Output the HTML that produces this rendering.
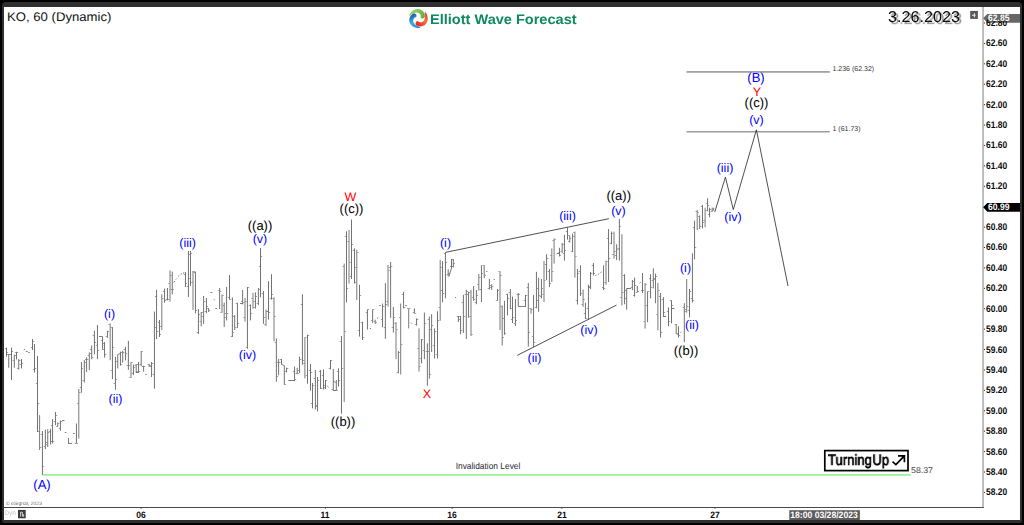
<!DOCTYPE html>
<html><head><meta charset="utf-8"><title>KO 60 Elliott Wave</title>
<style>
html,body{margin:0;padding:0;background:#000;}
#root{text-rendering:geometricPrecision;position:relative;width:1024px;height:525px;overflow:hidden;background:#000;font-family:"Liberation Sans",sans-serif;}
#frame{position:absolute;left:2px;top:2px;width:1020px;height:521px;background:#2f2f2f;border-radius:4px 4px 2px 2px;}
#paper{position:absolute;left:4px;top:7px;width:1016px;height:513px;background:#fff;}
svg{position:absolute;left:0;top:0;}
.t{position:absolute;white-space:nowrap;line-height:1;transform:translate(-50%,-50%);}
.w{position:absolute;white-space:nowrap;line-height:1;}
.ax{position:absolute;left:985.8px;font-weight:bold;font-size:9.6px;color:#0a0a0a;line-height:1;transform-origin:0 50%;transform:translateY(-50%) scaleX(0.88);white-space:nowrap;}
.tx{position:absolute;top:515.5px;font-weight:bold;font-size:9.2px;color:#0a0a0a;line-height:1;transform:translate(-50%,-50%) scaleX(0.93);white-space:nowrap;}
</style></head><body><div id="root">
<div id="frame"></div><div id="paper"></div>

<svg width="1024" height="525" viewBox="0 0 1024 525">
<defs><linearGradient id="gg" gradientUnits="userSpaceOnUse" x1="409" y1="15" x2="424" y2="17"><stop offset="0" stop-color="#9ed774"/><stop offset="0.55" stop-color="#84c858"/><stop offset="1" stop-color="#5fb13c"/></linearGradient><linearGradient id="gr" gradientUnits="userSpaceOnUse" x1="426" y1="12" x2="415" y2="25"><stop offset="0" stop-color="#ee3a2c"/><stop offset="0.45" stop-color="#f4743f"/><stop offset="1" stop-color="#e81c1a"/></linearGradient><linearGradient id="gb" gradientUnits="userSpaceOnUse" x1="420" y1="28" x2="412" y2="13"><stop offset="0" stop-color="#2f86cf"/><stop offset="0.5" stop-color="#39b1e8"/><stop offset="1" stop-color="#1b4a98"/></linearGradient></defs>
<rect x="982.2" y="7" width="1.7" height="500.6" fill="#b4b4b4"/>
<rect x="4" y="507" width="979.8" height="1" fill="#4a4a4a"/>
<rect x="983.9" y="22.49" width="1.1" height="1" fill="#333"/>
<rect x="983.9" y="42.90" width="1.1" height="1" fill="#333"/>
<rect x="983.9" y="63.31" width="1.1" height="1" fill="#333"/>
<rect x="983.9" y="83.72" width="1.1" height="1" fill="#333"/>
<rect x="983.9" y="104.13" width="1.1" height="1" fill="#333"/>
<rect x="983.9" y="124.54" width="1.1" height="1" fill="#333"/>
<rect x="983.9" y="144.95" width="1.1" height="1" fill="#333"/>
<rect x="983.9" y="165.36" width="1.1" height="1" fill="#333"/>
<rect x="983.9" y="185.77" width="1.1" height="1" fill="#333"/>
<rect x="983.9" y="206.18" width="1.1" height="1" fill="#333"/>
<rect x="983.9" y="226.59" width="1.1" height="1" fill="#333"/>
<rect x="983.9" y="247.00" width="1.1" height="1" fill="#333"/>
<rect x="983.9" y="267.41" width="1.1" height="1" fill="#333"/>
<rect x="983.9" y="287.82" width="1.1" height="1" fill="#333"/>
<rect x="983.9" y="308.23" width="1.1" height="1" fill="#333"/>
<rect x="983.9" y="328.64" width="1.1" height="1" fill="#333"/>
<rect x="983.9" y="349.05" width="1.1" height="1" fill="#333"/>
<rect x="983.9" y="369.46" width="1.1" height="1" fill="#333"/>
<rect x="983.9" y="389.87" width="1.1" height="1" fill="#333"/>
<rect x="983.9" y="410.28" width="1.1" height="1" fill="#333"/>
<rect x="983.9" y="430.69" width="1.1" height="1" fill="#333"/>
<rect x="983.9" y="451.10" width="1.1" height="1" fill="#333"/>
<rect x="983.9" y="471.51" width="1.1" height="1" fill="#333"/>
<rect x="983.9" y="491.92" width="1.1" height="1" fill="#333"/>
<rect x="140.6" y="507.5" width="1" height="1.2" fill="#333"/>
<rect x="324.9" y="507.5" width="1" height="1.2" fill="#333"/>
<rect x="451.7" y="507.5" width="1" height="1.2" fill="#333"/>
<rect x="561.4" y="507.5" width="1" height="1.2" fill="#333"/>
<rect x="714.5" y="507.5" width="1" height="1.2" fill="#333"/>
<rect x="42.5" y="473.9" width="868" height="1.9" fill="#a0f0a0"/>
<rect x="686.5" y="71.0" width="143.3" height="1.8" fill="#a2a2a2"/>
<rect x="686.5" y="131.2" width="143.3" height="1.2" fill="#858585"/>
<g stroke="#303030" stroke-width="0.85" fill="none" stroke-linecap="butt">
<line x1="445.4" y1="252.4" x2="608.9" y2="218.7"/>
<line x1="517.2" y1="355.4" x2="616.5" y2="305.1"/>
<polyline points="714.8,212 725.4,177.1 733.3,209.6 756.4,129.8 788,286"/>
</g>
<path d="M39.60 415.2V450.0M78.80 389.0V438.6M110.20 323.5V360.2M131.00 362.0V378.0M161.80 294.3V330.0M170.00 270.4V301.6M193.00 271.0V310.0M222.00 294.6V312.7M245.00 298.0V321.6M253.00 292.9V308.6M266.00 309.5V326.1M274.00 297.2V341.3M304.90 337.2V378.3M344.20 263.6V402.0M349.00 230.0V283.6M356.80 249.6V300.0M388.00 265.0V306.6M396.00 322.0V359.2M400.70 303.6V374.5M408.70 308.3V328.4M419.00 328.4V371.6M429.40 316.6V378.7M440.20 259.8V320.7M471.00 290.0V336.0M478.80 274.0V290.6M500.00 271.3V330.0M531.00 308.0V313.6M544.00 261.0V302.0M551.80 248.4V282.0M554.10 238.4V263.6M574.90 231.6V277.7M583.10 289.5V306.8M606.00 260.6V284.8M614.00 231.6V258.6M621.90 234.2V305.5M645.10 283.0V328.6M655.50 273.6V303.2M657.90 283.0V330.4M686.70 279.0V312.7M697.20 210.0V230.0M705.10 207.7V227.2" stroke="#6a6a6a" stroke-width="0.9" fill="none"/>
<path d="M6.50 347.7V356.6M8.74 354.0V367.8M11.50 347.7V380.0M14.32 354.8V367.8M16.50 351.8V359.5M18.74 359.0V369.5M21.50 359.0V368.4M32.50 338.9V350.0M34.50 344.0V372.5M37.50 356.0V432.0M42.44 431.0V474.8M45.38 429.5V449.0M47.74 429.2V447.0M50.56 428.8V444.5M52.56 419.1V443.5M55.44 412.0V425.2M57.68 422.6V426.8M60.44 420.5V430.8M76.44 423.5V443.7M81.44 362.0V392.7M84.32 360.0V382.5M86.62 357.3V372.0M89.32 352.4V370.0M91.68 345.4V359.3M94.44 330.7V354.3M97.44 325.0V359.2M102.56 336.8V349.8M104.56 342.0V357.6M107.44 330.8V337.8M112.44 327.1V379.2M115.44 357.0V389.8M117.74 354.4V368.5M120.44 351.6V365.7M122.68 350.6V362.7M125.44 346.7V360.4M128.38 340.8V369.8M133.44 364.5V375.0M136.20 364.0V372.8M138.56 362.0V372.8M141.20 351.0V366.3M143.62 365.7V371.6M149.20 364.0V367.0M151.56 362.0V377.0M154.44 311.6V388.7M156.56 289.8V339.0M159.50 320.0V337.0M164.56 288.6V302.7M167.44 288.0V300.4M172.26 271.6V294.5M185.44 272.0V287.0M188.44 251.0V297.0M190.50 251.0V285.8M195.44 271.6V313.3M198.44 309.0V334.0M201.20 312.0V326.3M203.62 296.0V324.0M206.44 298.0V313.3M208.62 308.0V312.0M219.62 288.0V309.0M224.20 302.7V327.0M226.62 287.0V320.4M229.50 275.0V299.7M232.38 297.4V337.0M234.68 315.0V330.0M237.44 302.7V328.0M242.62 290.0V304.4M247.44 287.0V348.7M250.44 304.4V320.4M255.44 292.3V308.6M258.38 288.0V305.0M260.50 248.0V297.3M263.44 291.0V323.8M268.50 281.2V319.6M271.50 274.2V299.6M276.38 338.4V381.8M278.62 359.0V375.3M281.50 359.0V364.7M284.32 365.3V384.8M286.56 367.7V372.4M294.56 366.5V381.3M297.20 367.7V374.2M299.56 356.7V373.0M302.44 294.3V364.7M307.50 334.8V383.6M310.50 364.0V390.7M312.50 383.0V408.4M315.38 370.0V409.6M317.56 377.0V411.4M320.56 370.0V389.0M323.50 369.4V389.5M325.50 380.0V389.0M330.50 360.0V369.4M333.32 368.9V390.7M336.32 380.0V390.7M338.50 368.3V386.6M341.50 336.0V413.7M346.50 231.3V302.5M351.50 219.5V279.0M354.50 248.4V283.6M359.50 284.8V336.6M362.50 321.8V340.0M367.44 309.4V329.5M372.62 309.4V322.8M375.20 319.7V324.0M382.56 303.6V327.2M385.38 283.2V338.8M390.62 262.0V317.8M393.38 307.0V332.5M398.38 351.0V373.4M403.56 291.8V308.3M414.38 308.3V313.6M416.56 318.4V325.5M421.56 339.0V363.3M424.38 312.5V359.2M427.38 343.3V385.8M431.62 314.2V352.0M434.56 328.4V358.6M437.50 311.3V358.6M442.56 261.0V302.4M445.44 252.4V298.3M448.20 269.3V276.4M451.50 259.0V268.0M453.32 259.0V267.5M458.38 316.0V322.0M460.56 316.0V334.3M463.38 294.8V333.1M466.32 290.0V339.0M468.56 291.8V317.8M473.62 286.0V300.7M476.38 290.0V304.2M481.44 265.2V302.0M484.20 265.2V278.2M489.38 278.8V289.5M491.68 284.2V290.0M497.50 289.0V300.8M502.20 305.5V345.5M504.44 300.8V334.8M507.50 293.7V315.3M510.38 289.0V309.2M512.50 296.6V323.0M515.44 299.0V326.0M518.26 293.0V306.0M525.50 294.9V306.7M528.32 283.0V346.6M533.56 294.9V347.2M536.44 271.8V308.4M538.62 277.7V311.8M541.44 279.0V298.4M546.56 254.2V280.0M549.44 269.0V287.2M559.44 247.8V256.5M562.20 243.0V253.0M564.44 234.8V260.6M567.50 227.4V239.6M569.74 235.4V242.5M572.56 233.6V252.2M577.44 269.0V304.5M580.44 265.3V296.0M585.44 302.7V319.0M588.44 284.8V320.0M590.56 272.0V289.0M593.44 263.0V275.4M603.56 265.3V290.0M608.56 229.0V282.0M611.44 231.6V244.3M616.62 244.3V260.0M619.38 218.9V260.6M624.56 274.2V304.3M626.68 288.4V309.7M632.38 280.0V290.0M634.56 277.7V296.6M637.32 286.0V292.5M642.50 273.0V293.0M647.56 291.3V322.2M650.56 274.2V298.4M653.32 268.3V288.4M660.56 293.0V337.5M663.44 297.2V316.8M668.50 307.4V326.3M671.50 300.2V323.3M676.20 324.0V334.0M678.50 326.3V337.5M684.32 303.2V342.2M689.50 289.0V317.4M692.44 253.3V302.6M694.56 220.7V259.4M699.68 215.4V229.0M702.50 204.8V228.4M707.56 198.3V211.3M709.56 207.7V217.2M712.20 207.7V211.8M713.68 207.7V210.0" stroke="#4e4e4e" stroke-width="0.8" fill="none"/>
<path d="M4.8 348.5h1.3M6.9 352.5h1.3M7.0 354.5h1.3M9.1 354.5h1.3M9.8 354.5h1.3M11.9 351.5h1.3M12.6 360.5h1.3M14.7 355.5h1.3M14.8 352.5h1.3M16.9 352.5h1.3M17.0 368.5h1.3M19.1 360.5h1.3M19.8 364.5h1.3M21.9 363.5h1.3M30.8 347.5h1.3M32.9 341.5h1.3M32.8 369.5h1.3M34.9 368.5h1.3M35.8 383.5h1.3M37.9 403.5h1.3M37.9 431.5h1.3M40.0 447.5h1.3M40.7 434.5h1.3M42.8 466.5h1.3M43.7 446.5h1.3M45.8 442.5h1.3M46.0 444.5h1.3M48.1 432.5h1.3M48.9 431.5h1.3M51.0 441.5h1.3M50.9 425.5h1.3M53.0 441.5h1.3M53.7 421.5h1.3M55.8 415.5h1.3M56.0 426.5h1.3M58.1 423.5h1.3M58.7 428.5h1.3M60.8 421.5h1.3M74.7 443.5h1.3M76.8 443.5h1.3M77.1 403.5h1.3M79.2 392.5h1.3M79.7 387.5h1.3M81.8 368.5h1.3M82.6 380.5h1.3M84.7 362.5h1.3M84.9 359.5h1.3M87.0 359.5h1.3M87.6 355.5h1.3M89.7 353.5h1.3M90.0 349.5h1.3M92.1 357.5h1.3M92.7 335.5h1.3M94.8 342.5h1.3M95.7 345.5h1.3M97.8 350.5h1.3M100.9 340.5h1.3M103.0 349.5h1.3M102.9 343.5h1.3M105.0 354.5h1.3M105.7 336.5h1.3M107.8 331.5h1.3M108.5 324.5h1.3M110.6 327.5h1.3M110.7 370.5h1.3M112.8 347.5h1.3M113.7 383.5h1.3M115.8 379.5h1.3M116.0 361.5h1.3M118.1 354.5h1.3M118.7 353.5h1.3M120.8 364.5h1.3M121.0 352.5h1.3M123.1 352.5h1.3M123.7 349.5h1.3M125.8 353.5h1.3M126.7 365.5h1.3M128.8 365.5h1.3M129.3 377.5h1.3M131.4 362.5h1.3M131.7 373.5h1.3M133.8 367.5h1.3M134.5 365.5h1.3M136.6 371.5h1.3M136.9 364.5h1.3M139.0 371.5h1.3M139.5 364.5h1.3M141.6 351.5h1.3M141.9 366.5h1.3M144.0 366.5h1.3M147.5 364.5h1.3M149.6 365.5h1.3M149.9 366.5h1.3M152.0 363.5h1.3M152.7 374.5h1.3M154.8 327.5h1.3M154.9 296.5h1.3M157.0 331.5h1.3M157.8 322.5h1.3M159.9 334.5h1.3M160.1 326.5h1.3M162.2 298.5h1.3M162.9 291.5h1.3M165.0 300.5h1.3M165.7 299.5h1.3M167.8 299.5h1.3M168.3 283.5h1.3M170.4 275.5h1.3M170.6 289.5h1.3M172.7 289.5h1.3M183.7 274.5h1.3M185.8 283.5h1.3M186.7 286.5h1.3M188.8 254.5h1.3M188.8 278.5h1.3M190.9 253.5h1.3M191.3 282.5h1.3M193.4 271.5h1.3M193.7 272.5h1.3M195.8 310.5h1.3M196.7 332.5h1.3M198.8 314.5h1.3M199.5 321.5h1.3M201.6 312.5h1.3M201.9 316.5h1.3M204.0 301.5h1.3M204.7 311.5h1.3M206.8 306.5h1.3M206.9 308.5h1.3M209.0 310.5h1.3M217.9 290.5h1.3M220.0 291.5h1.3M220.3 312.5h1.3M222.4 295.5h1.3M222.5 305.5h1.3M224.6 317.5h1.3M224.9 313.5h1.3M227.0 313.5h1.3M227.8 297.5h1.3M229.9 299.5h1.3M230.7 336.5h1.3M232.8 332.5h1.3M233.0 316.5h1.3M235.1 327.5h1.3M235.7 303.5h1.3M237.8 323.5h1.3M240.9 301.5h1.3M243.0 302.5h1.3M243.3 317.5h1.3M245.4 301.5h1.3M245.7 347.5h1.3M247.8 287.5h1.3M248.7 305.5h1.3M250.8 313.5h1.3M251.3 298.5h1.3M253.4 307.5h1.3M253.7 301.5h1.3M255.8 296.5h1.3M256.7 303.5h1.3M258.8 289.5h1.3M258.8 266.5h1.3M260.9 256.5h1.3M261.7 293.5h1.3M263.8 317.5h1.3M264.3 324.5h1.3M266.4 311.5h1.3M266.8 311.5h1.3M268.9 312.5h1.3M269.8 298.5h1.3M271.9 294.5h1.3M272.3 298.5h1.3M274.4 316.5h1.3M274.7 342.5h1.3M276.8 376.5h1.3M276.9 362.5h1.3M279.0 362.5h1.3M279.8 359.5h1.3M281.9 364.5h1.3M282.6 365.5h1.3M284.7 384.5h1.3M284.9 371.5h1.3M287.0 368.5h1.3M292.9 371.5h1.3M295.0 379.5h1.3M295.5 373.5h1.3M297.6 373.5h1.3M297.9 370.5h1.3M300.0 359.5h1.3M300.7 304.5h1.3M302.8 360.5h1.3M303.2 363.5h1.3M305.3 337.5h1.3M305.8 375.5h1.3M307.9 335.5h1.3M308.8 370.5h1.3M310.9 372.5h1.3M310.8 403.5h1.3M312.9 385.5h1.3M313.7 378.5h1.3M315.8 405.5h1.3M315.9 406.5h1.3M318.0 380.5h1.3M318.9 371.5h1.3M321.0 388.5h1.3M321.8 375.5h1.3M323.9 385.5h1.3M323.8 387.5h1.3M325.9 380.5h1.3M328.8 368.5h1.3M330.9 360.5h1.3M331.6 389.5h1.3M333.7 381.5h1.3M334.6 382.5h1.3M336.7 390.5h1.3M336.8 371.5h1.3M338.9 380.5h1.3M339.8 341.5h1.3M341.9 368.5h1.3M342.5 266.5h1.3M344.6 331.5h1.3M344.8 236.5h1.3M346.9 288.5h1.3M347.3 241.5h1.3M349.4 262.5h1.3M349.8 276.5h1.3M351.9 244.5h1.3M352.8 250.5h1.3M354.9 282.5h1.3M355.1 267.5h1.3M357.2 252.5h1.3M357.8 330.5h1.3M359.9 295.5h1.3M360.8 322.5h1.3M362.9 337.5h1.3M365.7 312.5h1.3M367.8 309.5h1.3M370.9 320.5h1.3M373.0 309.5h1.3M373.5 321.5h1.3M375.6 322.5h1.3M380.9 319.5h1.3M383.0 306.5h1.3M383.7 327.5h1.3M385.8 304.5h1.3M386.3 301.5h1.3M388.4 270.5h1.3M388.9 267.5h1.3M391.0 266.5h1.3M391.7 327.5h1.3M393.8 317.5h1.3M394.3 323.5h1.3M396.4 329.5h1.3M396.7 372.5h1.3M398.8 352.5h1.3M399.0 317.5h1.3M401.1 344.5h1.3M401.9 294.5h1.3M404.0 307.5h1.3M407.0 308.5h1.3M409.1 308.5h1.3M412.7 312.5h1.3M414.8 313.5h1.3M414.9 324.5h1.3M417.0 319.5h1.3M417.3 348.5h1.3M419.4 366.5h1.3M419.9 358.5h1.3M422.0 339.5h1.3M422.7 350.5h1.3M424.8 323.5h1.3M425.7 351.5h1.3M427.8 351.5h1.3M427.7 319.5h1.3M429.8 374.5h1.3M429.9 329.5h1.3M432.0 325.5h1.3M432.9 345.5h1.3M435.0 331.5h1.3M435.8 354.5h1.3M437.9 320.5h1.3M438.5 307.5h1.3M440.6 267.5h1.3M440.9 290.5h1.3M443.0 293.5h1.3M443.7 253.5h1.3M445.8 262.5h1.3M446.5 274.5h1.3M448.6 273.5h1.3M449.8 266.5h1.3M451.9 266.5h1.3M451.6 259.5h1.3M453.7 263.5h1.3M456.7 316.5h1.3M458.8 316.5h1.3M458.9 319.5h1.3M461.0 330.5h1.3M461.7 302.5h1.3M463.8 316.5h1.3M464.6 294.5h1.3M466.7 291.5h1.3M466.9 294.5h1.3M469.0 292.5h1.3M469.3 316.5h1.3M471.4 334.5h1.3M471.9 297.5h1.3M474.0 299.5h1.3M474.7 302.5h1.3M476.8 295.5h1.3M477.1 284.5h1.3M479.2 277.5h1.3M479.7 289.5h1.3M481.8 273.5h1.3M482.5 265.5h1.3M484.6 275.5h1.3M487.7 288.5h1.3M489.8 285.5h1.3M490.0 287.5h1.3M492.1 286.5h1.3M495.8 300.5h1.3M497.9 290.5h1.3M498.3 271.5h1.3M500.4 275.5h1.3M500.5 306.5h1.3M502.6 337.5h1.3M502.7 318.5h1.3M504.8 333.5h1.3M505.8 294.5h1.3M507.9 298.5h1.3M508.7 292.5h1.3M510.8 308.5h1.3M510.8 319.5h1.3M512.9 317.5h1.3M513.7 323.5h1.3M515.8 320.5h1.3M516.6 294.5h1.3M518.7 294.5h1.3M523.8 300.5h1.3M525.9 295.5h1.3M526.6 287.5h1.3M528.7 332.5h1.3M529.3 308.5h1.3M531.4 309.5h1.3M531.9 336.5h1.3M534.0 342.5h1.3M534.7 307.5h1.3M536.8 300.5h1.3M536.9 288.5h1.3M539.0 295.5h1.3M539.7 296.5h1.3M541.8 288.5h1.3M542.3 294.5h1.3M544.4 280.5h1.3M544.9 264.5h1.3M547.0 258.5h1.3M547.7 271.5h1.3M549.8 283.5h1.3M550.1 255.5h1.3M552.2 271.5h1.3M552.4 240.5h1.3M554.5 239.5h1.3M557.7 253.5h1.3M559.8 255.5h1.3M560.5 251.5h1.3M562.6 244.5h1.3M562.7 253.5h1.3M564.8 250.5h1.3M565.8 231.5h1.3M567.9 235.5h1.3M568.0 241.5h1.3M570.1 238.5h1.3M570.9 251.5h1.3M573.0 236.5h1.3M573.2 232.5h1.3M575.3 256.5h1.3M575.7 300.5h1.3M577.8 273.5h1.3M578.7 271.5h1.3M580.8 293.5h1.3M581.4 304.5h1.3M583.5 299.5h1.3M583.7 313.5h1.3M585.8 318.5h1.3M586.7 308.5h1.3M588.8 286.5h1.3M588.9 287.5h1.3M591.0 273.5h1.3M591.7 265.5h1.3M593.8 273.5h1.3M601.9 287.5h1.3M604.0 288.5h1.3M604.3 282.5h1.3M606.4 261.5h1.3M606.9 238.5h1.3M609.0 258.5h1.3M609.7 243.5h1.3M611.8 233.5h1.3M612.3 254.5h1.3M614.4 251.5h1.3M614.9 255.5h1.3M617.0 249.5h1.3M617.7 248.5h1.3M619.8 226.5h1.3M620.2 297.5h1.3M622.3 292.5h1.3M622.9 275.5h1.3M625.0 290.5h1.3M625.0 298.5h1.3M627.1 288.5h1.3M630.7 287.5h1.3M632.8 281.5h1.3M632.9 295.5h1.3M635.0 285.5h1.3M635.6 292.5h1.3M637.7 291.5h1.3M640.8 290.5h1.3M642.9 290.5h1.3M643.4 321.5h1.3M645.5 284.5h1.3M645.9 305.5h1.3M648.0 291.5h1.3M648.9 278.5h1.3M651.0 287.5h1.3M651.6 280.5h1.3M653.7 279.5h1.3M653.8 278.5h1.3M655.9 276.5h1.3M656.2 314.5h1.3M658.3 290.5h1.3M658.9 296.5h1.3M661.0 332.5h1.3M661.7 299.5h1.3M663.8 312.5h1.3M666.8 311.5h1.3M668.9 321.5h1.3M669.8 300.5h1.3M671.9 305.5h1.3M674.5 324.5h1.3M676.6 333.5h1.3M676.8 334.5h1.3M678.9 335.5h1.3M682.6 307.5h1.3M684.7 311.5h1.3M685.0 309.5h1.3M687.1 306.5h1.3M687.8 310.5h1.3M689.9 291.5h1.3M690.7 298.5h1.3M692.8 300.5h1.3M692.9 227.5h1.3M695.0 247.5h1.3M695.5 211.5h1.3M697.6 212.5h1.3M698.0 216.5h1.3M700.1 226.5h1.3M700.8 206.5h1.3M702.9 222.5h1.3M703.4 220.5h1.3M705.5 210.5h1.3M705.9 203.5h1.3M708.0 205.5h1.3M707.9 214.5h1.3M710.0 209.5h1.3M710.5 211.5h1.3M712.6 210.5h1.3" stroke="#454545" stroke-width="0.5" fill="none"/>
<path d="M23.8 350.0L25.0 349.0M25.8 351.5L27.6 351.5M28.3 352.5L29.8 352.5M62.0 420.5L64.5 420.5M64.8 432.5L66.4 432.5M68.5 438.0L68.5 443.5M68.3 443.5L72.0 443.5M72.9 433.5L74.6 433.5M99.0 336.5L102.6 336.5M136.0 372.5L138.6 372.5M145.4 374.5L146.6 374.5M173.8 282.5L174.8 281.0M175.8 279.5L176.8 278.5M178.0 276.5L179.2 275.5M180.6 274.3L181.8 273.6M183.0 273.2L184.2 272.8M210.5 292.5L212.4 292.5M213.8 299.2L214.8 300.2M215.2 308.5L217.0 308.5M240.0 303.5L242.7 303.5M288.3 380.5L294.2 380.5M327.3 386.0L328.5 387.2M333.2 390.5L336.2 390.5M369.8 328.5L371.0 328.5M377.0 318.4L378.2 317.6M379.2 305.5L380.8 305.5M405.2 305.5L406.8 305.5M410.8 322.6L411.8 323.6M455.0 297.0L456.2 298.2M486.2 271.5L487.4 271.5M493.6 279.5L494.8 279.5M518.1 306.5L525.5 306.5M556.5 254.0L559.4 252.5M595.4 275.6L596.6 275.0M598.0 274.3L599.2 273.8M600.4 272.4L601.6 272.0M626.8 288.5L631.0 288.5M639.6 283.0L640.8 282.0M663.4 316.5L666.0 316.5M671.5 308.5L674.5 308.5M680.5 332.7L681.5 331.7M449.0 276.4L451.5 268.0" stroke="#505050" stroke-width="0.75" fill="none"/>
<polygon points="983.2,18.3 987.3,13.9 1020,13.9 1020,22.7 987.3,22.7" fill="#666666"/>
<polygon points="983.2,207.3 987.3,202.9 1020,202.9 1020,211.8 987.3,211.8" fill="#000000"/>
<rect x="789.3" y="510.2" width="70.6" height="9.8" fill="#5c5c5c"/>
<rect x="970.2" y="10.9" width="7.7" height="8" fill="#585858"/>
<path d="M972 15.2h3.6M974.4 13.2v4" stroke="#e8e8e8" stroke-width="1.1" fill="none"/>
<rect x="18" y="509.9" width="7.7" height="8.4" fill="#3a3a3a"/>
<path d="M20.6 516.6v-4.4h1.8v4.4M23.6 514.2v2.6" stroke="#e0e0e0" stroke-width="0.9" fill="none"/>
<rect x="824.8" y="450.6" width="83.2" height="20" fill="#fff" stroke="#000" stroke-width="1.7"/>
<path d="M892.5 461.7L895.9 464.6L903.9 456.3M898.0 455.8H904.4V462.3" stroke="#000" stroke-width="1.7" fill="none" stroke-linejoin="miter"/>
<path d="M420.51 27.77 L420.05 27.87 L419.58 27.95 L419.12 28.01 L418.64 28.04 L418.17 28.05 L417.70 28.04 L417.23 28.00 L416.76 27.94 L416.30 27.86 L415.84 27.75 L415.38 27.62 L414.93 27.47 L414.49 27.30 L414.06 27.11 L413.64 26.89 L413.23 26.66 L412.84 26.40 L412.45 26.13 L412.08 25.83 L411.73 25.52 L411.39 25.19 L411.07 24.85 L410.76 24.49 L410.47 24.11 L410.22 23.71 L410.00 23.30 L409.81 22.87 L409.65 22.42 L409.52 21.98 L409.42 21.52 L409.35 21.06 L409.31 20.61 L409.30 20.15 L409.31 19.70 L409.35 19.25 L409.42 18.81 L409.51 18.37 L409.63 17.95 L409.77 17.54 L409.93 17.14 L410.12 16.76 L410.32 16.39 L410.55 16.04 L410.79 15.71 L411.06 15.39 L411.33 15.10 L411.62 14.83 L411.92 14.58 A2.45 2.45 0 0 1 416.08 17.18 L415.86 17.20 L415.65 17.24 L415.43 17.30 L415.22 17.37 L415.00 17.47 L414.80 17.59 L414.60 17.72 L414.41 17.88 L414.23 18.05 L414.06 18.23 L413.90 18.44 L413.76 18.66 L413.62 18.89 L413.51 19.13 L413.41 19.39 L413.33 19.65 L413.27 19.93 L413.23 20.21 L413.21 20.50 L413.21 20.79 L413.23 21.09 L413.27 21.38 L413.34 21.68 L413.44 21.96 L413.56 22.23 L413.70 22.50 L413.86 22.77 L414.03 23.03 L414.21 23.28 L414.41 23.53 L414.62 23.78 L414.84 24.02 L415.08 24.25 L415.33 24.48 L415.59 24.69 L415.87 24.90 L416.16 25.10 L416.46 25.30 L416.78 25.48 L417.11 25.66 L417.45 25.83 L417.81 25.99 L418.18 26.15 L418.56 26.32 L418.97 26.48 L419.40 26.67 L419.86 26.92 L420.51 27.77 Z" fill="url(#gb)"/>
<path d="M425.07 11.87 L425.39 12.21 L425.69 12.58 L425.97 12.95 L426.24 13.35 L426.48 13.75 L426.71 14.16 L426.91 14.59 L427.10 15.03 L427.26 15.47 L427.40 15.92 L427.51 16.38 L427.60 16.84 L427.68 17.31 L427.72 17.78 L427.75 18.25 L427.75 18.72 L427.72 19.19 L427.68 19.66 L427.61 20.13 L427.52 20.59 L427.40 21.05 L427.27 21.50 L427.11 21.95 L426.92 22.38 L426.71 22.80 L426.45 23.20 L426.17 23.58 L425.87 23.94 L425.55 24.28 L425.20 24.59 L424.84 24.88 L424.47 25.15 L424.08 25.39 L423.68 25.60 L423.27 25.79 L422.86 25.95 L422.44 26.09 L422.01 26.20 L421.58 26.28 L421.16 26.34 L420.73 26.37 L420.31 26.38 L419.89 26.36 L419.48 26.31 L419.08 26.24 L418.69 26.15 L418.31 26.03 L417.94 25.90 A2.45 2.45 0 0 1 418.11 21.00 L418.24 21.18 L418.38 21.34 L418.54 21.50 L418.72 21.65 L418.91 21.78 L419.11 21.90 L419.33 22.01 L419.56 22.09 L419.79 22.17 L420.04 22.22 L420.30 22.26 L420.56 22.27 L420.82 22.27 L421.09 22.25 L421.36 22.20 L421.63 22.14 L421.90 22.06 L422.17 21.95 L422.43 21.82 L422.68 21.68 L422.93 21.51 L423.16 21.33 L423.38 21.12 L423.58 20.89 L423.75 20.65 L423.91 20.39 L424.07 20.13 L424.21 19.85 L424.34 19.56 L424.46 19.27 L424.56 18.96 L424.66 18.65 L424.74 18.33 L424.81 18.00 L424.87 17.66 L424.91 17.32 L424.94 16.96 L424.95 16.61 L424.96 16.24 L424.95 15.87 L424.92 15.48 L424.89 15.09 L424.84 14.69 L424.79 14.28 L424.73 13.84 L424.68 13.38 L424.66 12.85 L425.07 11.87 Z" fill="url(#gr)"/>
<path d="M409.02 15.87 L409.16 15.42 L409.32 14.97 L409.51 14.54 L409.72 14.11 L409.94 13.70 L410.19 13.30 L410.46 12.91 L410.74 12.53 L411.05 12.17 L411.37 11.83 L411.71 11.50 L412.06 11.18 L412.43 10.89 L412.81 10.61 L413.21 10.36 L413.62 10.12 L414.04 9.90 L414.47 9.71 L414.91 9.54 L415.35 9.38 L415.81 9.25 L416.27 9.15 L416.73 9.06 L417.20 9.00 L417.67 8.98 L418.14 9.00 L418.61 9.05 L419.07 9.14 L419.53 9.25 L419.97 9.39 L420.40 9.56 L420.82 9.75 L421.22 9.96 L421.61 10.20 L421.98 10.46 L422.33 10.74 L422.66 11.04 L422.96 11.35 L423.25 11.68 L423.51 12.02 L423.75 12.37 L423.97 12.73 L424.16 13.11 L424.32 13.48 L424.46 13.87 L424.58 14.25 L424.67 14.64 L424.73 15.03 A2.45 2.45 0 0 1 420.41 17.33 L420.50 17.13 L420.57 16.92 L420.63 16.70 L420.67 16.48 L420.69 16.25 L420.69 16.01 L420.67 15.77 L420.63 15.53 L420.58 15.29 L420.50 15.05 L420.40 14.81 L420.29 14.57 L420.15 14.34 L420.00 14.12 L419.83 13.91 L419.64 13.71 L419.43 13.52 L419.20 13.34 L418.96 13.17 L418.71 13.03 L418.44 12.90 L418.17 12.79 L417.88 12.70 L417.58 12.64 L417.29 12.62 L416.98 12.61 L416.68 12.61 L416.37 12.62 L416.05 12.65 L415.74 12.70 L415.42 12.76 L415.10 12.83 L414.78 12.92 L414.46 13.03 L414.14 13.15 L413.82 13.28 L413.50 13.43 L413.18 13.60 L412.86 13.78 L412.55 13.98 L412.23 14.19 L411.91 14.41 L411.58 14.65 L411.25 14.91 L410.90 15.17 L410.52 15.45 L410.07 15.73 L409.02 15.87 Z" fill="url(#gg)"/>
</svg>
<div class="w" id="title" style="left:6.7px;top:10.6px;font-size:12.5px;color:#111;transform-origin:0 0;transform:scaleX(1.051);">KO, 60 (Dynamic)</div>
<div class="w" id="brand" style="will-change:transform;left:430.0px;top:12.2px;font-size:14px;font-weight:bold;color:#0f8a60;transform-origin:0 0;transform:scaleX(1.039);">Elliott Wave Forecast</div>
<div class="w" id="date" style="will-change:transform;left:887.8px;top:9.6px;font-size:15.6px;color:#0a0a0a;text-shadow:2.1px 2.3px 1.1px rgba(0,0,0,0.48);transform-origin:0 0;transform:scale(1.037,1);">3.26.2023</div>
<div class="ax" style="top:24.34px">62.80</div>
<div class="ax" style="top:44.35px">62.60</div>
<div class="ax" style="top:64.76px">62.40</div>
<div class="ax" style="top:85.17px">62.20</div>
<div class="ax" style="top:105.58px">62.00</div>
<div class="ax" style="top:125.99px">61.80</div>
<div class="ax" style="top:146.40px">61.60</div>
<div class="ax" style="top:166.81px">61.40</div>
<div class="ax" style="top:187.22px">61.20</div>
<div class="ax" style="top:228.04px">60.80</div>
<div class="ax" style="top:248.45px">60.60</div>
<div class="ax" style="top:268.86px">60.40</div>
<div class="ax" style="top:289.27px">60.20</div>
<div class="ax" style="top:309.68px">60.00</div>
<div class="ax" style="top:330.09px">59.80</div>
<div class="ax" style="top:350.50px">59.60</div>
<div class="ax" style="top:370.91px">59.40</div>
<div class="ax" style="top:391.32px">59.20</div>
<div class="ax" style="top:411.73px">59.00</div>
<div class="ax" style="top:432.14px">58.80</div>
<div class="ax" style="top:452.55px">58.60</div>
<div class="ax" style="top:472.96px">58.40</div>
<div class="ax" style="top:493.37px">58.20</div>
<div class="ax" style="top:18.2px;left:988.0px;color:#fff;font-size:9.4px;transform:translateY(-50%) scaleX(0.915);">62.85</div>
<div class="ax" style="top:207.4px;left:988.0px;color:#fff;font-size:9.4px;transform:translateY(-50%) scaleX(0.915);">60.99</div>
<div class="tx" style="left:141.1px">06</div>
<div class="tx" style="left:325.4px">11</div>
<div class="tx" style="left:452.2px">16</div>
<div class="tx" style="left:561.9px">21</div>
<div class="tx" style="left:715.0px">27</div>
<div class="tx" style="left:824.1px;top:515.8px;color:#fff;font-size:9.2px;transform:translate(-50%,-50%) scaleX(0.937);">18:00 03/28/2023</div>
<div class="t" style="left:853.3px;top:69.1px;font-size:7.0px;color:#333;">1.236 (62.32)</div>
<div class="t" style="left:846.5px;top:129.0px;font-size:7.0px;color:#333;">1 (61.73)</div>
<div class="t" style="left:488.4px;top:466.2px;font-size:9px;color:#2a2a33;transform:translate(-50%,-50%) scaleX(0.93);">Invalidation Level</div>
<div class="t" style="left:922.4px;top:469.5px;font-size:8.3px;color:#444;transform:translate(-50%,-50%) scaleX(1.06);">58.37</div>
<div class="w" style="will-change:transform;left:828.1px;top:453.2px;font-size:15px;color:#000;-webkit-text-stroke:0.7px #000;letter-spacing:0.1px;transform-origin:0 0;transform:scaleX(0.862);">Turning<span style="margin-left:0.5px">Up</span></div>
<div class="t" style="left:24.3px;top:505.2px;font-size:5.05px;color:#6e6e6e;will-change:transform;">© eSignal, 2023</div>
<div class="t" style="left:10.3px;top:513.7px;font-size:6.6px;color:#c4c4cc;will-change:transform;">Dyn</div>
<div class="t L" style="left:42.00px;top:483.70px;font-size:13px;color:#0000ff;">(A)</div>
<div class="t L" style="left:109.50px;top:313.50px;font-size:12.5px;color:#0000ff;">(i)</div>
<div class="t L" style="left:115.50px;top:399.00px;font-size:12.5px;color:#0000ff;">(ii)</div>
<div class="t L" style="left:187.70px;top:242.70px;font-size:12.5px;color:#0000ff;">(iii)</div>
<div class="t L" style="left:260.00px;top:224.70px;font-size:13px;color:#000000;">((a))</div>
<div class="t L" style="left:260.00px;top:239.00px;font-size:12.5px;color:#0000ff;">(v)</div>
<div class="t L" style="left:247.50px;top:355.00px;font-size:12.5px;color:#0000ff;">(iv)</div>
<div class="t L" style="left:350.50px;top:197.00px;font-size:12.5px;color:#ff0000;">W</div>
<div class="t L" style="left:351.50px;top:208.00px;font-size:13px;color:#000000;">((c))</div>
<div class="t L" style="left:343.00px;top:421.00px;font-size:13px;color:#000000;">((b))</div>
<div class="t L" style="left:427.00px;top:393.50px;font-size:12.5px;color:#ff0000;">X</div>
<div class="t L" style="left:445.50px;top:242.50px;font-size:12.5px;color:#0000ff;">(i)</div>
<div class="t L" style="left:534.50px;top:358.00px;font-size:12.5px;color:#0000ff;">(ii)</div>
<div class="t L" style="left:567.50px;top:215.80px;font-size:12.5px;color:#0000ff;">(iii)</div>
<div class="t L" style="left:589.00px;top:329.50px;font-size:12.5px;color:#0000ff;">(iv)</div>
<div class="t L" style="left:618.70px;top:194.50px;font-size:13px;color:#000000;">((a))</div>
<div class="t L" style="left:618.50px;top:211.00px;font-size:12.5px;color:#0000ff;">(v)</div>
<div class="t L" style="left:685.50px;top:267.50px;font-size:12.5px;color:#0000ff;">(i)</div>
<div class="t L" style="left:692.00px;top:325.00px;font-size:12.5px;color:#0000ff;">(ii)</div>
<div class="t L" style="left:686.00px;top:349.50px;font-size:13px;color:#000000;">((b))</div>
<div class="t L" style="left:725.00px;top:167.50px;font-size:12.5px;color:#0000ff;">(iii)</div>
<div class="t L" style="left:733.00px;top:216.50px;font-size:12.5px;color:#0000ff;">(iv)</div>
<div class="t L" style="left:756.00px;top:77.40px;font-size:13px;color:#0000ff;">(B)</div>
<div class="t L" style="left:757.00px;top:92.00px;font-size:12.5px;color:#ff0000;">Y</div>
<div class="t L" style="left:756.50px;top:101.50px;font-size:13px;color:#000000;">((c))</div>
<div class="t L" style="left:756.50px;top:120.00px;font-size:12.5px;color:#0000ff;">(v)</div>
</div></body></html>
